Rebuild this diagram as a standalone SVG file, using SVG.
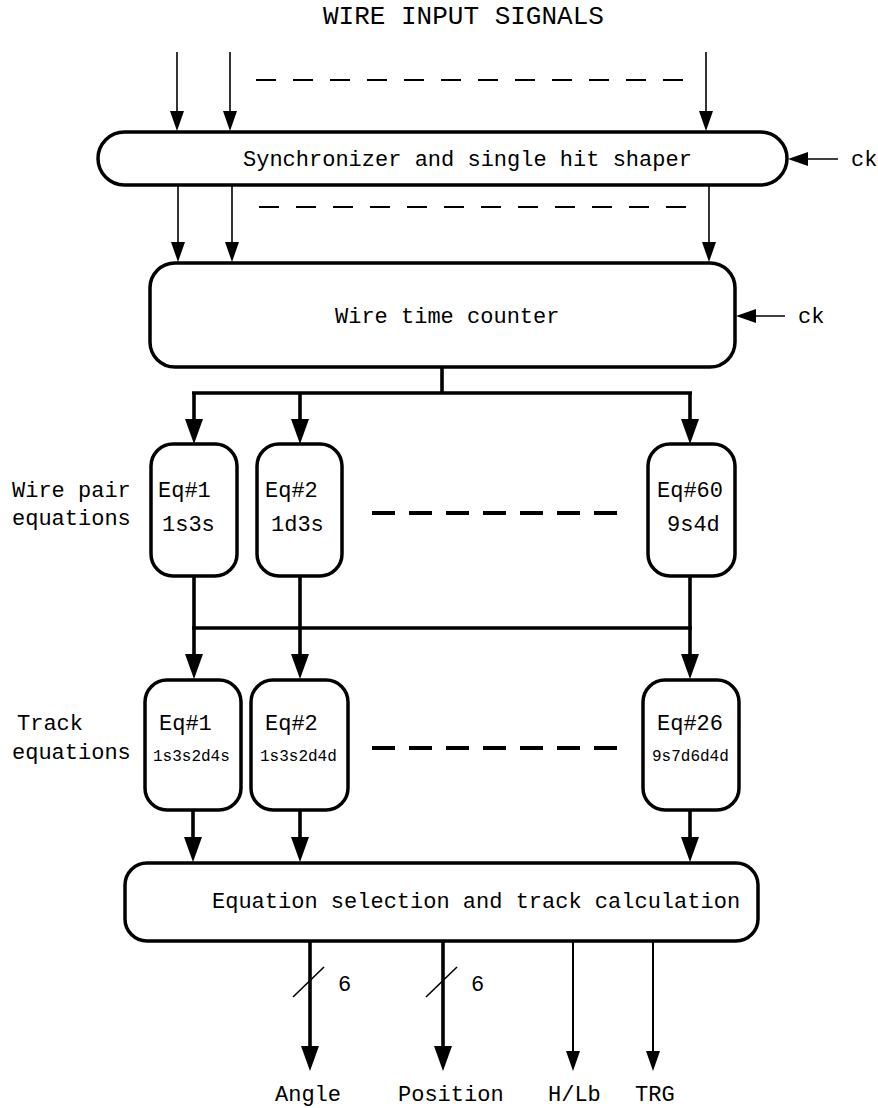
<svg xmlns="http://www.w3.org/2000/svg" width="878" height="1108" viewBox="0 0 878 1108">
<style>
  text { font-family: "Liberation Mono", "Courier New", monospace; fill: #000; }
  .t22 { font-size: 22px; }
  .t26 { font-size: 26px; }
  .t16 { font-size: 16px; }
  .box { fill: #fff; stroke: #000; stroke-width: 3.5; }
  .thin { fill: none; stroke: #000; stroke-width: 1.6; }
  .thick { fill: none; stroke: #000; stroke-width: 3.6; }
  .dash-thin { fill: none; stroke: #000; stroke-width: 2; stroke-dasharray: 20 17; }
  .dash-thick { fill: none; stroke: #000; stroke-width: 4; stroke-dasharray: 23 14; }
  .ah-thin { marker-end: url(#headThin); }
  .ah-thick { marker-end: url(#headThick); }
</style>
<defs>
  <marker id="headThin" markerUnits="userSpaceOnUse" markerWidth="20" markerHeight="14" refX="12" refY="7" orient="auto">
    <path d="M0,0 L20,7 L0,14 z" fill="#000"/>
  </marker>
  <marker id="headThick" markerUnits="userSpaceOnUse" markerWidth="25" markerHeight="18" refX="15" refY="9" orient="auto">
    <path d="M0,0 L25,9 L0,18 z" fill="#000"/>
  </marker>
</defs>

<rect width="878" height="1108" fill="#fff"/>

<text id="title" class="t26" x="323" y="24">WIRE INPUT SIGNALS</text>

<g id="sync">
  <rect class="box" x="98" y="132" width="689" height="53" rx="26.5" ry="26.5"/>
  <text class="t22" x="243" y="166">Synchronizer and single hit shaper</text>
</g>

<g id="counter">
  <rect class="box" x="150" y="263" width="585" height="104" rx="25" ry="25"/>
  <text class="t22" x="335" y="323">Wire time counter</text>
</g>

<g id="wirepair-label">
  <text class="t22" x="12" y="497">Wire pair</text>
  <text class="t22" x="12" y="525">equations</text>
</g>

<g id="wp1">
  <rect class="box" x="151" y="444" width="86" height="132" rx="22" ry="22"/>
  <text class="t22" x="158" y="497">Eq#1</text>
  <text class="t22" x="162" y="531">1s3s</text>
</g>
<g id="wp2">
  <rect class="box" x="257" y="444" width="85" height="132" rx="22" ry="22"/>
  <text class="t22" x="265" y="497">Eq#2</text>
  <text class="t22" x="271" y="531">1d3s</text>
</g>
<g id="wp60">
  <rect class="box" x="648" y="444" width="87" height="132" rx="22" ry="22"/>
  <text class="t22" x="657" y="497">Eq#60</text>
  <text class="t22" x="667" y="531">9s4d</text>
</g>

<g id="track-label">
  <text class="t22" x="17" y="730">Track</text>
  <text class="t22" x="12" y="759">equations</text>
</g>

<g id="tr1">
  <rect class="box" x="145" y="680" width="96" height="130" rx="22" ry="22"/>
  <text class="t22" x="159" y="730">Eq#1</text>
  <text class="t16" x="153" y="761">1s3s2d4s</text>
</g>
<g id="tr2">
  <rect class="box" x="251" y="680" width="97" height="130" rx="22" ry="22"/>
  <text class="t22" x="265" y="730">Eq#2</text>
  <text class="t16" x="260" y="761">1s3s2d4d</text>
</g>
<g id="tr26">
  <rect class="box" x="643" y="680" width="96" height="130" rx="22" ry="22"/>
  <text class="t22" x="657" y="730">Eq#26</text>
  <text class="t16" x="652" y="761">9s7d6d4d</text>
</g>

<g id="calc">
  <rect class="box" x="125" y="863" width="633" height="78" rx="22" ry="22"/>
  <text class="t22" x="212" y="908">Equation selection and track calculation</text>
</g>

<g id="outputs-labels">
  <text class="t22" x="338" y="991">6</text>
  <text class="t22" x="471" y="991">6</text>
  <text class="t22" x="275" y="1101">Angle</text>
  <text class="t22" x="398" y="1101">Position</text>
  <text class="t22" x="548" y="1101">H/Lb</text>
  <text class="t22" x="635" y="1101">TRG</text>
  <text class="t22" x="851" y="166">ck</text>
  <text class="t22" x="798" y="323">ck</text>
</g>

<g id="connectors">
  <!-- wire inputs -->
  <line class="thin ah-thin" x1="177" y1="52" x2="177" y2="123"/>
  <line class="thin ah-thin" x1="230" y1="52" x2="230" y2="123"/>
  <line class="thin ah-thin" x1="706" y1="52" x2="706" y2="123"/>
  <line class="dash-thin" x1="256" y1="80" x2="686" y2="80"/>
  <!-- ck to sync -->
  <line class="thin ah-thin" x1="838" y1="159" x2="796" y2="159"/>
  <!-- sync to counter -->
  <line class="thin ah-thin" x1="178" y1="185" x2="178" y2="254"/>
  <line class="thin ah-thin" x1="232" y1="185" x2="232" y2="254"/>
  <line class="thin ah-thin" x1="709" y1="185" x2="709" y2="254"/>
  <line class="dash-thin" x1="259" y1="207" x2="688" y2="207"/>
  <!-- ck to counter -->
  <line class="thin ah-thin" x1="785" y1="316" x2="744" y2="316"/>
  <!-- counter to wire pair eqs -->
  <path class="thick" d="M442,367 V393 M192,393 H692"/>
  <line class="thick ah-thick" x1="194" y1="393" x2="194" y2="434"/>
  <line class="thick ah-thick" x1="300" y1="393" x2="300" y2="434"/>
  <line class="thick ah-thick" x1="690" y1="393" x2="690" y2="434"/>
  <line class="dash-thick" x1="372" y1="513" x2="618" y2="513"/>
  <!-- wire pair to track eqs -->
  <path class="thick" d="M192,628 H692"/>
  <line class="thick ah-thick" x1="194" y1="576" x2="194" y2="669"/>
  <line class="thick ah-thick" x1="300" y1="576" x2="300" y2="669"/>
  <line class="thick ah-thick" x1="690" y1="576" x2="690" y2="669"/>
  <line class="dash-thick" x1="372" y1="748" x2="618" y2="748"/>
  <!-- track to calc -->
  <line class="thick ah-thick" x1="193" y1="810" x2="193" y2="852"/>
  <line class="thick ah-thick" x1="300" y1="810" x2="300" y2="852"/>
  <line class="thick ah-thick" x1="690" y1="810" x2="690" y2="852"/>
  <!-- outputs -->
  <line class="thick ah-thick" x1="310" y1="941" x2="310" y2="1061"/>
  <line class="thick ah-thick" x1="443" y1="941" x2="443" y2="1061"/>
  <line class="thin" x1="293" y1="997" x2="324" y2="967"/>
  <line class="thin" x1="426" y1="997" x2="457" y2="967"/>
  <line class="thin ah-thin" style="stroke-width:2" x1="573" y1="941" x2="573" y2="1063"/>
  <line class="thin ah-thin" style="stroke-width:2" x1="653" y1="941" x2="653" y2="1063"/>
</g>
</svg>
